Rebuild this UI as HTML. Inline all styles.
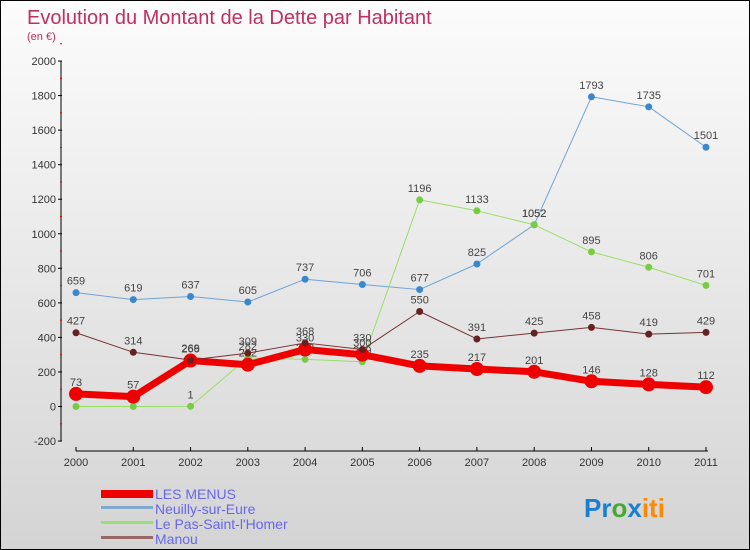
<!DOCTYPE html>
<html><head><meta charset="utf-8"><style>
body{margin:0;width:750px;height:550px;overflow:hidden;font-family:"Liberation Sans",sans-serif}
#wrap{position:absolute;left:0;top:0;width:748px;height:548px;border:1px solid #000;background:linear-gradient(#fcfcfc,#d4d4d4)}
</style></head><body>
<div id="wrap">
<svg id="chart" width="748" height="548" style="position:absolute;left:0;top:0">
<text x="26" y="23" font-size="20" fill="#c0305e">Evolution du Montant de la Dette par Habitant</text>
<text x="26" y="39" font-size="11" fill="#c0305e">(en €)</text>
<g id="axes"></g><g id="series"></g>
<g>
<rect x="100" y="489" width="52" height="8" fill="#e00"/>
<text x="154" y="498" font-size="14" fill="#6666ee">LES MENUS</text>
<rect x="100" y="505" width="52" height="3" fill="#7fa8cc"/>
<text x="154" y="513" font-size="14" fill="#6666ee">Neuilly-sur-Eure</text>
<rect x="100" y="520" width="52" height="3" fill="#99dd77"/>
<text x="154" y="528" font-size="14" fill="#6666ee">Le Pas-Saint-l'Homer</text>
<rect x="100" y="535" width="52" height="3" fill="#996666"/>
<text x="154" y="543" font-size="14" fill="#6666ee">Manou</text>
</g>
<text x="583" y="516" font-size="26" font-weight="bold"><tspan fill="#1a7fd0">Pr</tspan><tspan fill="#44aa33">o</tspan><tspan fill="#1a7fd0">x</tspan><tspan fill="#ff8800">iti</tspan></text>
</svg></div>
<script>
const years=[2000,2001,2002,2003,2004,2005,2006,2007,2008,2009,2010,2011];
const yTicks=[-200,0,200,400,600,800,1000,1200,1400,1600,1800,2000];
const lesMenus=[73,57,266,242,330,300,235,217,201,146,128,112];
const neuilly=[659,619,637,605,737,706,677,825,1052,1793,1735,1501];
const pasSaint=[0,0,1,282,273,259,1196,1133,1052,895,806,701];
const manou=[427,314,269,309,368,330,550,391,425,458,419,429];
const NS='http://www.w3.org/2000/svg';
const xS=i=>75+i*(705-75)/(years.length-1);
const yS=v=>405.5-v*(380/2200);
function mk(t,a,p){const e=document.createElementNS(NS,t);for(const k in a)e.setAttribute(k,a[k]);p.appendChild(e);return e;}
const ax=document.getElementById('axes');
let l=mk('line',{x1:60,y1:yS(2000),x2:60,y2:yS(-200),stroke:'#000'},ax);


l=mk('line',{x1:75,y1:450,x2:707,y2:450,stroke:'#000'},ax);


yTicks.forEach(v=>{
 mk('line',{x1:57,x2:61,y1:yS(v),y2:yS(v),stroke:'#000'},ax);
 mk('line',{x1:59,x2:61,y1:yS(v+100),y2:yS(v+100),stroke:'#e00'},ax);
 const t=mk('text',{x:55,y:yS(v)+4,'font-size':11,'text-anchor':'end',fill:'#333'},ax);
 t.textContent=v;
 
 
});
years.forEach((y,i)=>{
 mk('line',{x1:xS(i),x2:xS(i),y1:446,y2:450,stroke:'#000'},ax);
 const t=mk('text',{x:xS(i),y:465,'font-size':11,'text-anchor':'middle',fill:'#333'},ax);
 t.textContent=y;
 
 
});
const sg=document.getElementById('series');
function draw(vals,name,col,w,dot,dotc){
 const g=mk('g',{},sg);
 
 
 const p=mk('polyline',{points:vals.map((v,i)=>xS(i)+','+yS(v)).join(' '),fill:'none',stroke:col,'stroke-width':w,'stroke-linejoin':'round'},g);
 
 
 vals.forEach((v,i)=>{
  const c=mk('circle',{cx:xS(i),cy:yS(v),r:dot,fill:dotc},g);
  
  
  const t=mk('text',{x:xS(i),y:yS(v)-8,'font-size':11,'text-anchor':'middle',fill:'#444'},g);
  t.textContent=v;
  
  
 });
}
draw(neuilly,'neuilly','#6fa3d6',1,3.5,'#3a88cc');
draw(pasSaint,'pas-saint-lhomer','#99dd66',1,3.5,'#77cc44');
draw(lesMenus,'les-menus','#ee0000',7,7,'#ee0000');
draw(manou,'manou','#773333',1,3.5,'#662222');
</script>
</body></html>
